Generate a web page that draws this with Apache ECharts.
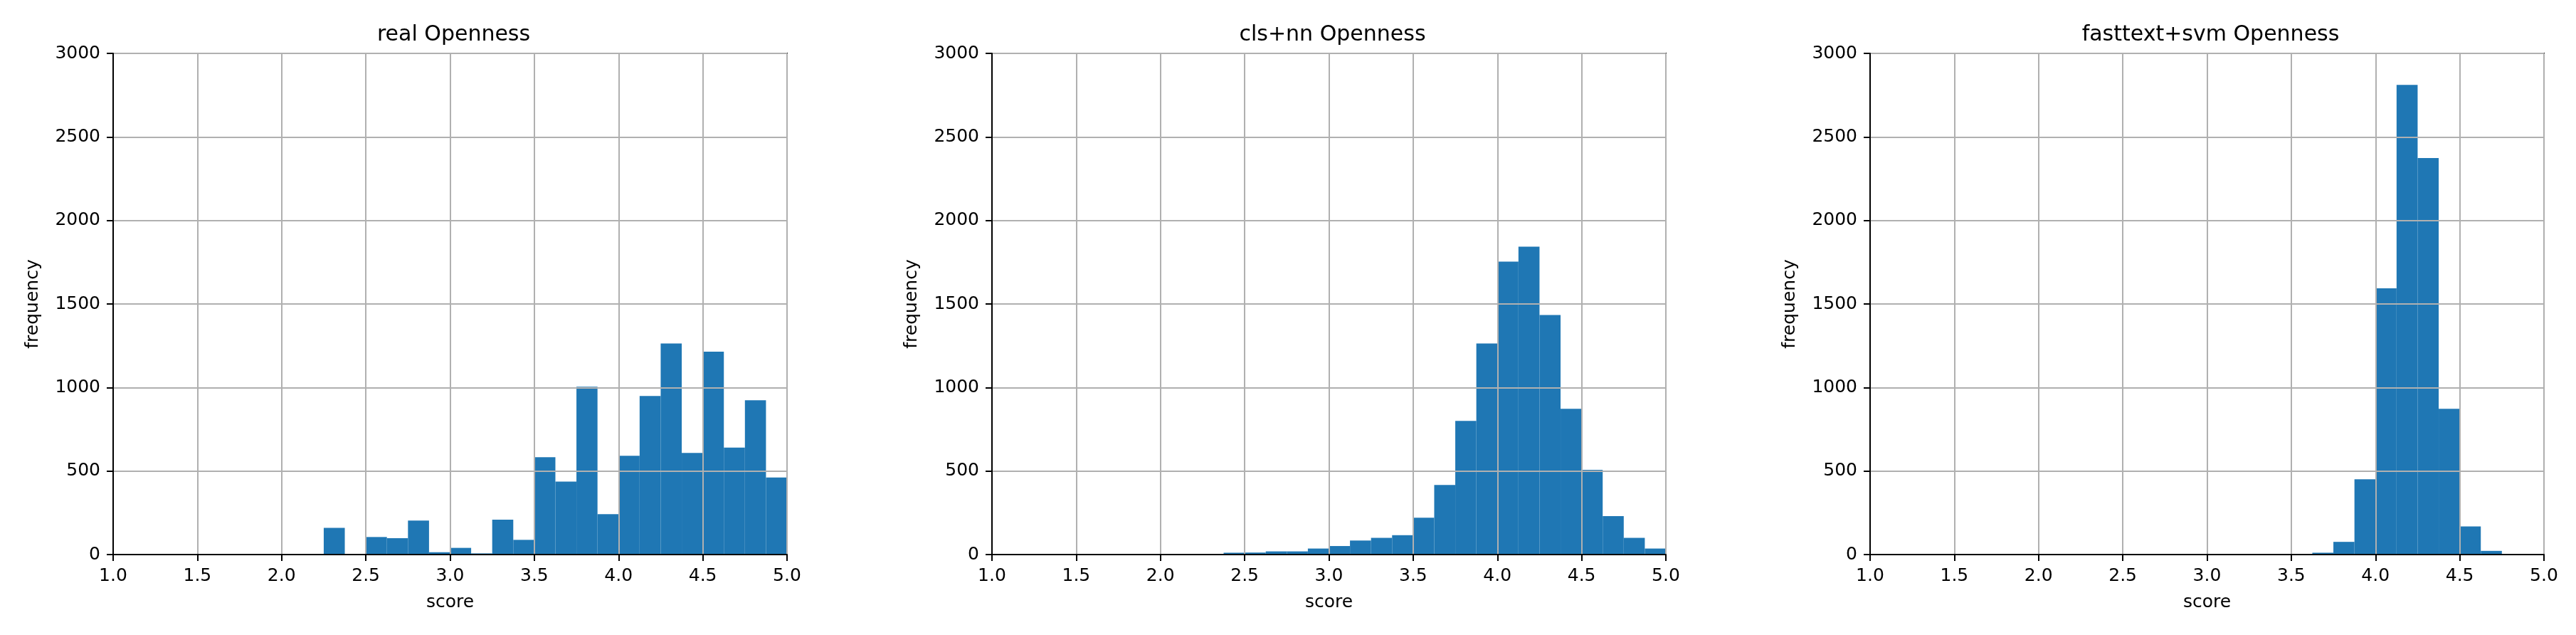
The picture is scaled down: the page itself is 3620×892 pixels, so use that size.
<!DOCTYPE html>
<html>
<head>
<meta charset="utf-8">
<title>Openness histograms</title>
<script src="https://cdn.jsdelivr.net/npm/echarts@6/dist/echarts.min.js"></script>
<style>
  html, body { margin: 0; padding: 0; background: #fff; }
  #chart { width: 3620px; height: 892px; }
</style>
</head>
<body>
<div id="chart"></div>
<script>
// bin edges (width 0.125) shared by all three histograms
const binEdges = [1.25, 1.375, 1.5, 1.625, 1.75, 1.875, 2.0, 2.125, 2.25, 2.375, 2.5, 2.625,
    2.75, 2.875, 3.0, 3.125, 3.25, 3.375, 3.5, 3.625, 3.75, 3.875, 4.0, 4.125, 4.25,
    4.375, 4.5, 4.625, 4.75, 4.875, 5.0];

// counts per bin
const realCounts = [0, 0, 0, 0, 0, 0, 0, 0, 160, 0, 105, 98, 203, 14, 40, 7, 209, 88,
    583, 437, 1005, 242, 591, 949, 1264, 608, 1215, 640, 924, 461];
const clsNnCounts = [0, 0, 0, 0, 0, 0, 0, 0, 0, 11, 12, 19, 19, 36, 51, 84, 100, 116,
    221, 417, 800, 1264, 1754, 1843, 1434, 873, 507, 230, 100, 36];
const fasttextSvmCounts = [0, 0, 0, 0, 0, 0, 0, 0, 0, 0, 0, 0, 0, 0, 0, 0, 0, 0,
    0, 11, 76, 451, 1594, 2811, 2374, 873, 168, 22, 0, 0];

const panelTitles = ['real Openness', 'cls+nn Openness', 'fasttext+svm Openness'];
const xTicks = [1.0, 5.0, 0.5];   // min, max, step
const yTicks = [0, 3000, 500];

const FONT = 'DejaVu Sans';
const gridLefts = [159, 1394, 2628];
const gridWidth = 947;

function buildData(counts) {
    return counts.map((c, i) => [binEdges[i], binEdges[i + 1], c]);
}

function renderBar(params, api) {
    const y = api.value(2);
    if (!y) return;
    const p0 = api.coord([api.value(0), y]);
    const p1 = api.coord([api.value(1), 0]);
    return {
        type: 'rect',
        shape: { x: p0[0], y: p0[1], width: p1[0] - p0[0], height: p1[1] - p0[1] },
        style: { fill: '#1f77b4' }
    };
}

const allCounts = [realCounts, clsNnCounts, fasttextSvmCounts];

const option = {
    backgroundColor: '#fff',
    animation: false,
    title: panelTitles.map((t, i) => ({
        text: t,
        left: gridLefts[i] + gridWidth / 2,
        top: 29,
        textAlign: 'center',
        textStyle: { fontFamily: FONT, fontSize: 30, fontWeight: 'normal', color: '#000' }
    })),
    grid: gridLefts.map(l => ({
        left: l, top: 75, width: gridWidth, height: 704,
        show: true, borderColor: '#000', borderWidth: 2, z: 5
    })),
    xAxis: gridLefts.map((l, i) => ({
        type: 'value',
        gridIndex: i,
        min: xTicks[0], max: xTicks[1], interval: xTicks[2],
        name: 'score',
        nameLocation: 'middle',
        nameGap: 55,
        nameTextStyle: { fontFamily: FONT, fontSize: 25, color: '#000' },
        z: 5,
        axisLine: { show: true, onZero: false, lineStyle: { color: '#000', width: 2 } },
        axisTick: { show: true, length: 9, lineStyle: { color: '#000', width: 2 } },
        axisLabel: {
            margin: 18, fontFamily: FONT, fontSize: 25, color: '#000',
            showMinLabel: true, showMaxLabel: true,
            formatter: v => v.toFixed(1)
        },
        splitLine: { show: true, lineStyle: { color: '#b0b0b0', width: 2 } }
    })),
    yAxis: gridLefts.map((l, i) => ({
        type: 'value',
        gridIndex: i,
        min: yTicks[0], max: yTicks[1], interval: yTicks[2],
        name: 'frequency',
        nameLocation: 'middle',
        nameGap: 100,
        nameTextStyle: { fontFamily: FONT, fontSize: 25, color: '#000' },
        z: 5,
        axisLine: { show: true, lineStyle: { color: '#000', width: 2 } },
        axisTick: { show: true, length: 9, lineStyle: { color: '#000', width: 2 } },
        axisLabel: {
            margin: 18, fontFamily: FONT, fontSize: 25, color: '#000',
            showMinLabel: true, showMaxLabel: true,
            formatter: v => String(v)
        },
        splitLine: { show: true, lineStyle: { color: '#b0b0b0', width: 2 } }
    })),
    series: allCounts.map((counts, i) => ({
        type: 'custom',
        xAxisIndex: i,
        yAxisIndex: i,
        renderItem: renderBar,
        encode: { x: [0, 1], y: 2 },
        data: buildData(counts)
    }))
};

const myChart = echarts.init(document.getElementById('chart'));
myChart.setOption(option);
</script>
</body>
</html>
